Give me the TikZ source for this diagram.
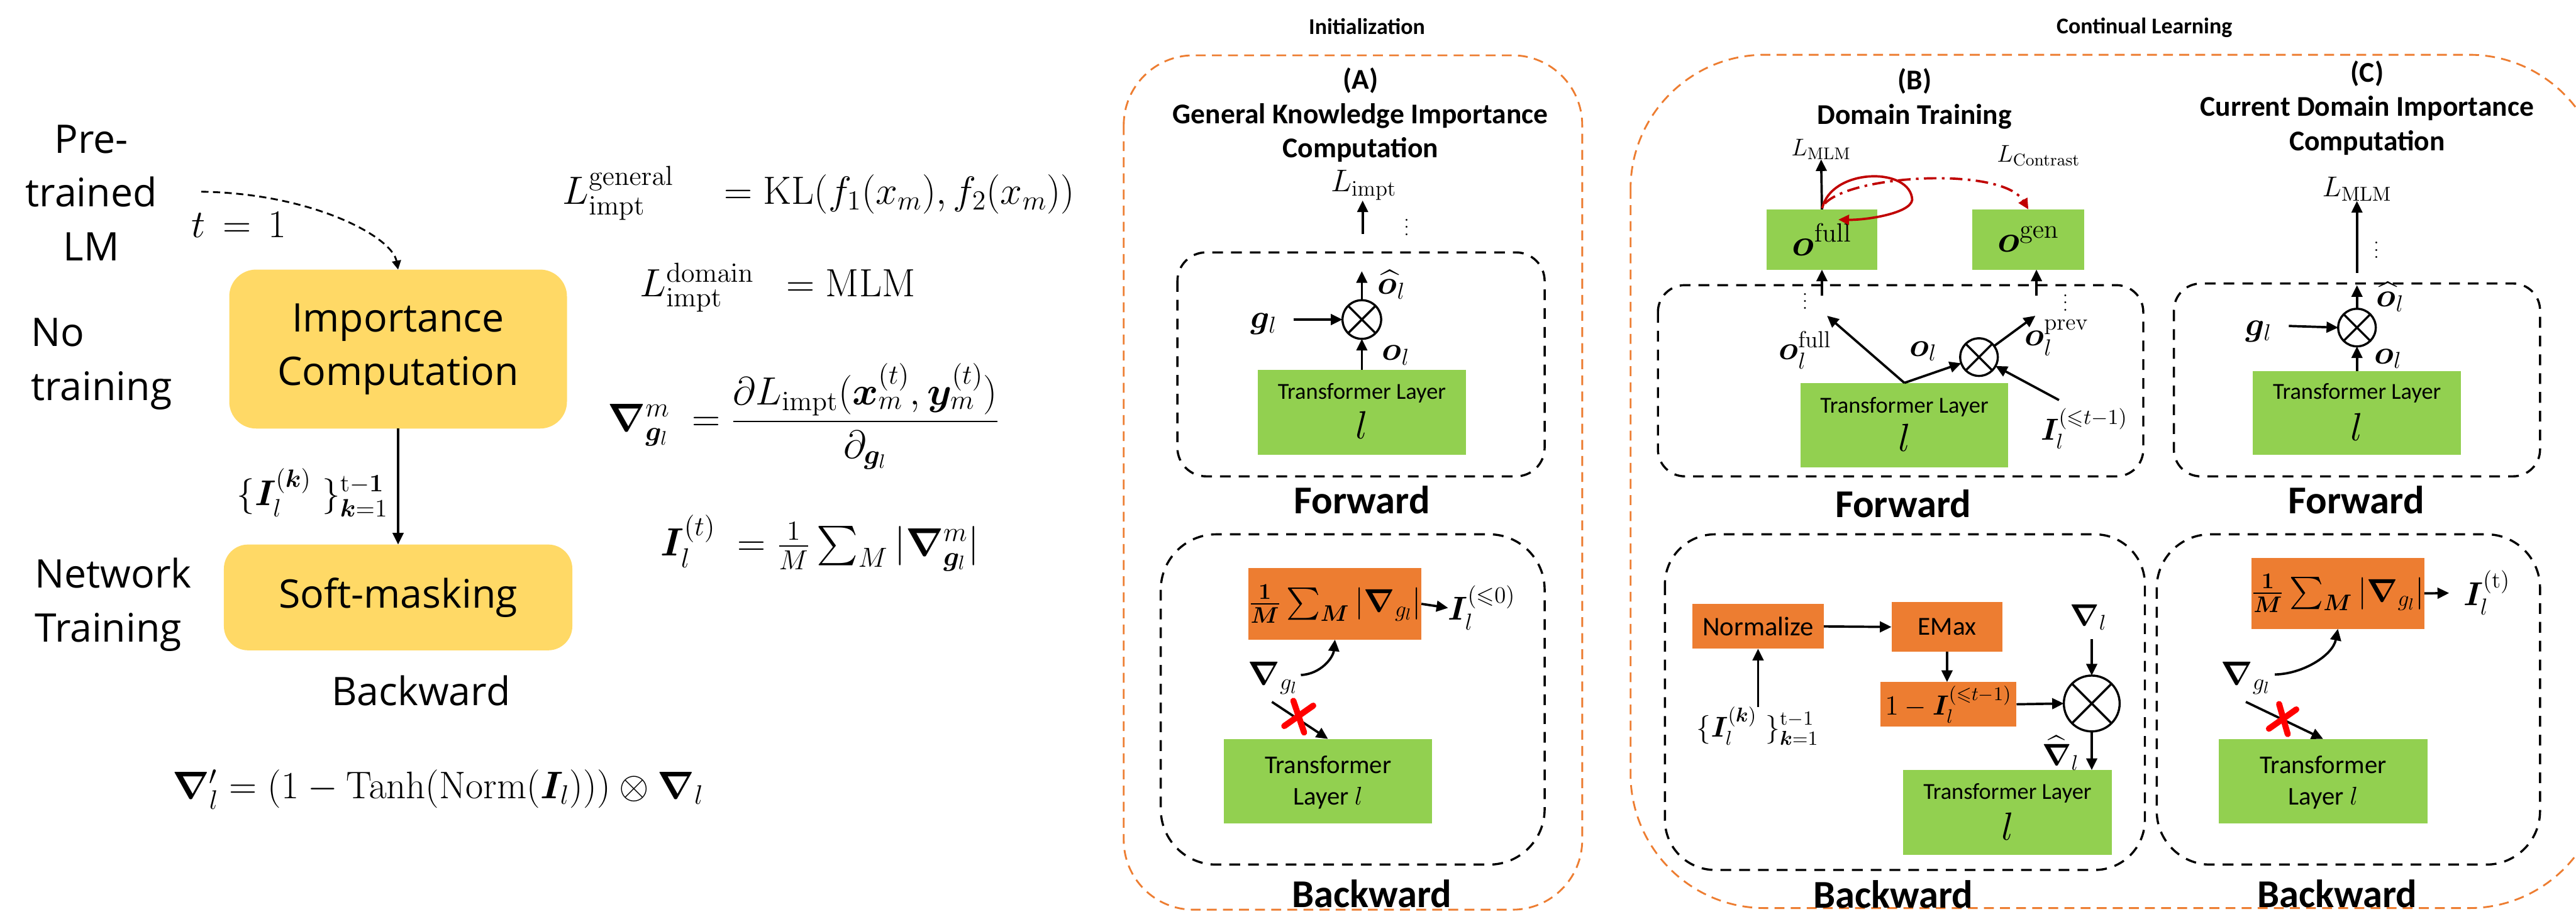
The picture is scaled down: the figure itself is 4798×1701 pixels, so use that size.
\RequirePackage{fix-cm}
\documentclass[tikz,border=0pt]{standalone}
\usepackage{amsmath,amssymb,bm}
\usepackage[no-math]{fontspec}
\newfontfamily\osans{Open Sans}
\newfontfamily\calf{Carlito}
\usetikzlibrary{arrows.meta}
\definecolor{cgreen}{HTML}{92D050}
\definecolor{corange}{HTML}{ED7D31}
\definecolor{cyellow}{HTML}{FFD966}
\definecolor{cdred}{HTML}{C00000}
\definecolor{cred}{HTML}{FF0000}
\newcommand{\fsz}[2]{\fontsize{#1}{#2}\selectfont}
\tikzset{
  every node/.style={inner sep=0pt, outer sep=0pt},
  arr/.style={line width=1.3pt, -{Triangle[length=6.5pt,width=6pt]}},
  bdash/.style={draw=black, line width=1.2pt, dash pattern=on 6pt off 4.5pt},
  odash/.style={draw=corange, line width=1pt, dash pattern=on 5.5pt off 3.5pt},
  ybox/.style={fill=cyellow, rounded corners=15pt},
  gbox/.style={fill=cgreen},
  obox/.style={fill=corange},
  otimesn/.style={circle, draw, line width=1.2pt, path picture={\draw[line width=1.2pt] (path picture bounding box.north west) -- (path picture bounding box.south east) (path picture bounding box.north east) -- (path picture bounding box.south west);}},
  ttl/.style={font={\calf\bfseries\fsz{16}{19.2}}, align=center},
  ttlsmall/.style={font={\calf\bfseries\fsz{12.6}{15}}},
  fwbw/.style={font={\calf\bfseries\fsz{22}{26}}},
  ostxt/.style={font={\osans\fsz{22}{30}}},
  tl/.style={font={\calf\fsz{12.8}{15}}},
  tl2/.style={font={\calf\fsz{14.3}{17.7}}, align=center},
  bigl/.style={font={\fsz{22}{26}}},
  ml/.style={font={\fsz{18.5}{22}}},
  eqf/.style={font={\fsz{22}{26}}, anchor=base west},
  xmark/.style={draw=cred, line width=3.4pt, line cap=round},
  rloop/.style={draw=cdred, line width=1.3pt, -{Triangle[length=6pt,width=5.5pt]}},
}
\begin{document}
\begin{tikzpicture}[x=0.3pt, y=-0.3pt]
\useasboundingbox (0,0) rectangle (4798,1701);

% ---------------- left part ----------------
\node[ybox, ostxt, align=center, minimum width=188.7pt, minimum height=88.8pt] (imp) at (741.5,650) {Importance\\Computation};
\node[ybox, rounded corners=13.5pt, ostxt, minimum width=194.7pt, minimum height=59.1pt] (soft) at (741.5,1112.5) {Soft-masking};
\node[ostxt, align=center] (pretr) at (170,359) {Pre-\\trained\\LM};
\node[ostxt, align=left, anchor=west] (notr) at (58,678) {No\\training};
\node[ostxt, align=left, anchor=west] (nettr) at (65,1126) {Network\\Training};
\node[font={\fsz{22}{26}}] (tlab) at (445,419) {$t\,=\,1$};
\coordinate (lmst) at (375,357);
\draw[line width=1pt, dash pattern=on 4pt off 2.5pt, -{Triangle[length=5pt,width=5pt]}] (lmst) .. controls (580,360) and (730,440) .. (imp.north);
\draw[arr] (imp.south) -- (soft.north);
\node[font={\fsz{20}{24}}] (iklab) at (582,917) {$\{\bm{I}_l^{(\bm{k})}\ \}_{\bm{k}=1}^{\mathrm{t}-\mathbf{1}}$};
\node[ostxt] (lbwd) at (784,1286) {Backward};

\node[eqf] (eq1) at (1048,380) {$L^{\mathrm{general}}_{\mathrm{impt}}\quad=\mathrm{KL}(f_1(x_m),f_2(x_m))$};
\node[eqf] (eq2) at (1192,552) {$L^{\mathrm{domain}}_{\mathrm{impt}}\hspace{12pt}=\mathrm{MLM}$};
\node[eqf] (eq3) at (1132,803) {$\bm{\nabla}^{m}_{\bm{g}_l}\;=\dfrac{\partial L_{\mathrm{impt}}(\bm{x}^{(t)}_m,\bm{y}^{(t)}_m)}{\partial_{\bm{g}_l}}$};
\node[eqf] (eq4) at (1231,1035) {$\bm{I}^{(t)}_l\;=\tfrac{1}{M}\sum_M|\bm{\nabla}^m_{\bm{g}_l}|$};
\node[font={\fsz{21.5}{25}}] (eqb) at (816,1470) {$\bm{\nabla}'_l=(1-\mathrm{Tanh}(\mathrm{Norm}(\bm{I}_l)))\otimes\bm{\nabla}_l$};

% ---------------- frames ----------------
\draw[odash, rounded corners=39pt] (2093,103) rectangle (2947,1694);
\draw[odash, rounded corners=75pt] (3037,102) rectangle (4849,1691);
\draw[bdash, rounded corners=16pt] (2193,470) rectangle (2877,887);
\draw[bdash, rounded corners=31pt] (2162,995) rectangle (2877,1610);
\draw[bdash, rounded corners=15pt] (3088,531) rectangle (3992,887);
\draw[bdash, rounded corners=28pt] (3101,995) rectangle (3995,1620);
\draw[bdash, rounded corners=15pt] (4049,528) rectangle (4731,887);
\draw[bdash, rounded corners=30pt] (4017,995) rectangle (4731,1610);

\node[ttlsmall] (init) at (2546,49) {Initialization};
\node[ttlsmall] (cont) at (3994,52) {Continual Learning};
\node[ttl] (Atitle) at (2534,214) {(A)\\General Knowledge Importance\\Computation};
\node[ttl] (Btitle) at (3566,184) {(B)\\Domain Training};
\node[ttl] (Ctitle) at (4409,201) {(C)\\Current Domain Importance\\Computation};
\node[fwbw] (Afw) at (2537,931) {Forward};
\node[fwbw] (Bfw) at (3545,938) {Forward};
\node[fwbw] (Cfw) at (4389,931) {Forward};
\node[fwbw] (Abw) at (2555,1664) {Backward};
\node[fwbw] (Bbw) at (3526,1666) {Backward};
\node[fwbw] (Cbw) at (4353,1664) {Backward};

% ---------------- A forward ----------------
\node[gbox, minimum width=116.1pt, minimum height=47.4pt] (Agreen) at (2536.5,768) {};
\node[tl] (Agreent) at (2536.5,732) {Transformer Layer};
\node[bigl] (Agreenl) at (2536.5,792) {$l$};
\node[otimesn, minimum size=21.6pt] (Acirc) at (2536.5,595) {};
\node[ml] (Ag) at (2354,603) {$\bm{g}_l$};
\node[ml] (Aoh) at (2592,530) {$\widehat{\bm{o}}_l$};
\node[ml] (Aol) at (2600,662) {$\bm{o}_l$};
\coordinate (Agst) at (2409,595);
\coordinate (Aup) at (2536.5,505);
\draw[arr] (Agst) -- (Acirc.west);
\draw[arr] (Agreen.north) -- (Acirc.south);
\draw[arr] (Acirc.north) -- (Aup);
\node[font={\fsz{17.5}{21}}] (Aimpt) at (2540,345) {$L_{\mathrm{impt}}$};
\coordinate (Aimptst) at (2538,436);
\draw[arr] (Aimptst) -- (Aimptst |- Aimpt.south);
\node[font={\fsz{10}{12}}] (Adots) at (2620,413) {$\vdots$};

% ---------------- A backward ----------------
\node[obox, minimum width=81.9pt, minimum height=39.9pt, font={\fsz{18}{21}}] (Aor) at (2486.5,1124.5) {$\frac{\mathbf{1}}{\bm{M}}\sum_{\bm{M}}|\bm{\nabla}_{g_l}|$};
\node[ml] (AI) at (2760,1132) {$\bm{I}_l^{(\leqslant 0)}$};
\draw[arr] (Aor.east) -- (AI.west);
\node[ml] (Anab) at (2371,1263) {$\bm{\nabla}_{g_l}$};
\coordinate (Acs) at (2423,1257);
\draw[arr] (Acs) .. controls (2460,1255) and (2483,1225) .. (Aor.south);
\node[gbox, minimum width=116.1pt, minimum height=47.1pt] (Agreen2) at (2473.5,1454.5) {};
\node[tl2] (Agreen2t) at (2473.5,1457) {Transformer\\Layer $l$};
\coordinate (Axs) at (2369,1307);
\draw[arr] (Axs) -- (Agreen2.north);
\draw[xmark] (2392,1352) -- (2446,1314);
\draw[xmark] (2409,1305) -- (2429,1364);

% ---------------- B forward ----------------
\node[gbox, minimum width=62.1pt, minimum height=33.6pt, font={\fsz{21}{25}}] (ofull) at (3393.5,446) {$\bm{o}^{\mathrm{full}}$};
\node[gbox, minimum width=62.4pt, minimum height=33.6pt, font={\fsz{21}{25}}] (ogen) at (3778,446) {$\bm{o}^{\mathrm{gen}}$};
\node[font={\fsz{13.5}{16}}] (BLmlm) at (3392,278) {$L_{\mathrm{MLM}}$};
\node[font={\fsz{13.5}{16}}] (BLcon) at (3797,290) {$L_{\mathrm{Contrast}}$};
\draw[arr] (ofull.north) -- (BLmlm.south);
\draw[rloop] (3394,388) .. controls (3410,315) and (3550,310) .. (3561,367) .. controls (3570,395) and (3480,410) .. (3424,409);
\draw[draw=cdred, line width=1.3pt, dash pattern=on 7pt off 3pt on 1.5pt off 3pt, -{Triangle[length=6pt,width=5.5pt]}] (3399,379) .. controls (3450,325) and (3730,310) .. (ogen.north);
\coordinate (Bd1) at (3393.5,551);
\coordinate (Bd2) at (3793,551);
\draw[arr] (Bd1) -- (ofull.south);
\draw[arr] (Bd2) -- (Bd2 |- ogen.south);
\node[font={\fsz{10}{12}}] (Bdots1) at (3362,551) {$\vdots$};
\node[font={\fsz{10}{12}}] (Bdots2) at (3847,554) {$\vdots$};
\node[gbox, minimum width=115.8pt, minimum height=47.1pt] (Bgreen) at (3547,791.5) {};
\node[tl] (Bgreent) at (3547,758) {Transformer Layer};
\node[bigl] (Bgreenl) at (3547,815) {$l$};
\node[otimesn, minimum size=21pt] (Bcirc) at (3686,665) {};
\coordinate (Bfull) at (3403,588);
\coordinate (Bprev) at (3791,588);
\coordinate (BIst) at (3835,745);
\draw[arr] (Bgreen.north) -- (Bfull);
\draw[arr] (Bgreen.north) -- (Bcirc);
\draw[arr] (Bcirc) -- (Bprev);
\draw[arr] (BIst) -- (Bcirc);
\node[ml] (Bofull) at (3362,652) {$\bm{o}_l^{\mathrm{full}}$};
\node[ml] (Bol) at (3582,654) {$\bm{o}_l$};
\node[ml] (Boprev) at (3831,629) {$\bm{o}_l^{\mathrm{prev}}$};
\node[font={\fsz{17}{20}}] (BIl) at (3882,798) {$\bm{I}_l^{(\leqslant t-1)}$};

% ---------------- B backward ----------------
\node[obox, minimum width=73.5pt, minimum height=24.9pt, font={\calf\fsz{15}{18}}] (norm) at (3274.5,1166.5) {Normalize};
\node[obox, minimum width=62.1pt, minimum height=27.9pt, font={\calf\fsz{14.5}{18}}] (emax) at (3626.5,1167.5) {EMax};
\node[obox, minimum width=76.2pt, minimum height=24.9pt, font={\fsz{15.5}{18}}] (onem) at (3629,1311.5) {$1-\bm{I}_l^{(\leqslant t-1)}$};
\node[otimesn, minimum size=31.2pt] (Bcirc2) at (3896,1310) {};
\node[gbox, minimum width=116.4pt, minimum height=47.4pt] (Bgreen2) at (3739,1513) {};
\node[tl] (Bgreen2t) at (3739,1477) {Transformer Layer};
\node[bigl] (Bgreen2l) at (3739,1539) {$l$};
\node[font={\fsz{16}{19}}] (BIk) at (3274,1352) {$\{\bm{I}_l^{(\bm{k})}\ \}_{\bm{k}=1}^{\mathrm{t}-1}$};
\node[font={\fsz{17}{20}}] (Bnab) at (3890,1150) {$\bm{\nabla}_l$};
\node[font={\fsz{17}{20}}] (Bnabh) at (3838,1402) {$\widehat{\bm{\nabla}}_l$};
\draw[arr] (BIk.north -| norm) -- (norm.south);
\draw[arr] (norm.east) -- (emax.west);
\draw[arr] (emax.south) -- (emax.south |- onem.north);
\draw[arr] (onem.east) -- (Bcirc2.west);
\coordinate (Bnabst) at (3896,1190);
\draw[arr] (Bnabst) -- (Bcirc2.north);
\draw[arr] (Bcirc2.south) -- (Bcirc2.south |- Bgreen2.north);

% ---------------- C forward ----------------
\node[gbox, minimum width=116.4pt, minimum height=46.8pt] (Cgreen) at (4390,769) {};
\node[tl] (Cgreent) at (4390,732) {Transformer Layer};
\node[bigl] (Cgreenl) at (4390,795) {$l$};
\node[otimesn, minimum size=21pt] (Ccirc) at (4390,610) {};
\node[ml] (Cg) at (4207,617) {$\bm{g}_l$};
\node[ml] (Coh) at (4452,553) {$\widehat{\bm{o}}_l$};
\node[ml] (Col) at (4448,668) {$\bm{o}_l$};
\coordinate (Cgst) at (4263,607);
\coordinate (Cup) at (4390,531);
\draw[arr] (Cgst) -- (Ccirc.west);
\draw[arr] (Cgreen.north) -- (Ccirc.south);
\draw[arr] (Ccirc.north) -- (Cup);
\node[font={\fsz{16}{19}}] (CLmlm) at (4390,352) {$L_{\mathrm{MLM}}$};
\coordinate (CLst) at (4390,508);
\draw[arr] (CLst) -- (CLst |- CLmlm.south);
\node[font={\fsz{10}{12}}] (Cdots) at (4426,456) {$\vdots$};

% ---------------- C backward ----------------
\node[obox, minimum width=81.3pt, minimum height=39.6pt, font={\fsz{18}{21}}] (Cor) at (4354.5,1105) {$\frac{\mathbf{1}}{\bm{M}}\sum_{\bm{M}}|\bm{\nabla}_{g_l}|$};
\node[ml] (CI) at (4632,1104) {$\bm{I}_l^{(\mathrm{t})}$};
\draw[arr, shorten >=8pt] (Cor.east) -- (CI.west);
\node[ml] (Cnab) at (4183,1263) {$\bm{\nabla}_{g_l}$};
\coordinate (Ccs) at (4237,1256);
\draw[arr] (Ccs) .. controls (4290,1255) and (4345,1220) .. (Cor.south);
\node[gbox, minimum width=116.4pt, minimum height=47.1pt] (Cgreen2) at (4327,1454.5) {};
\node[tl2] (Cgreen2t) at (4327,1457) {Transformer\\Layer $l$};
\coordinate (Cxs) at (4183,1307);
\draw[arr] (Cxs) -- (Cgreen2.north);
\draw[xmark] (4226,1357) -- (4277,1321);
\draw[xmark] (4245,1311) -- (4261,1367);
\end{tikzpicture}
\end{document}
